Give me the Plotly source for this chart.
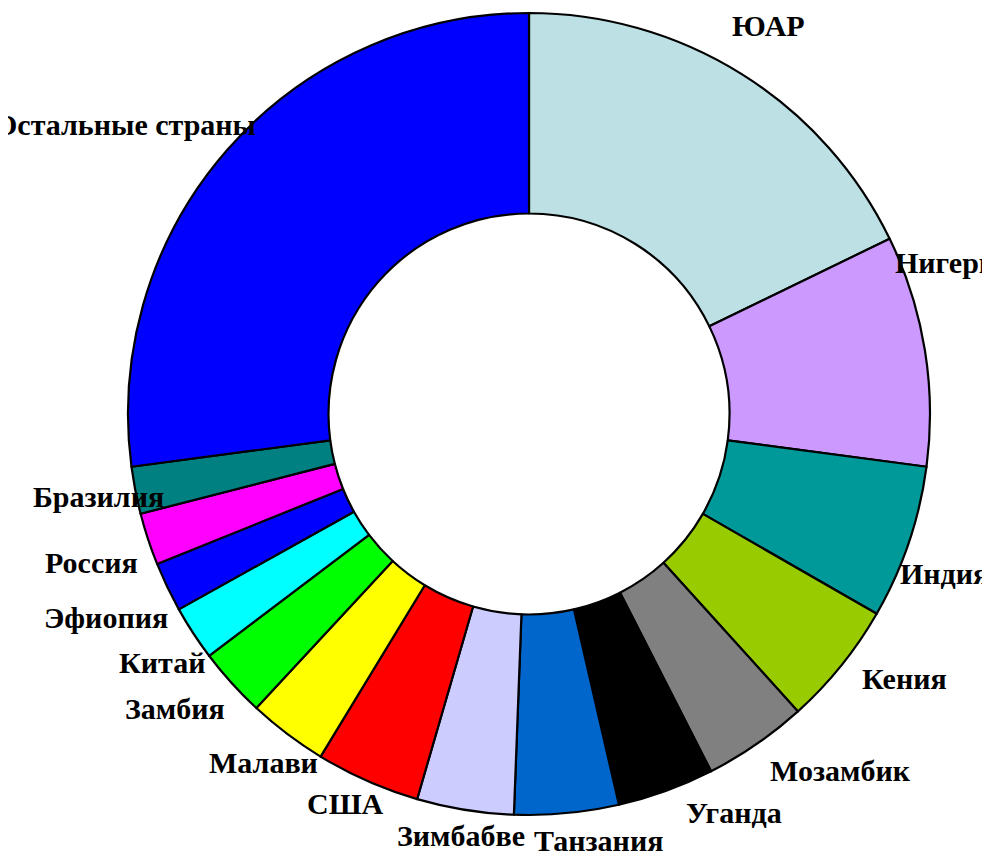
import plotly.graph_objects as go

# page body has an 8px margin; figure sized to fit the 990x858 window
OFF = 8
W, H = 990 - OFF, 858 - OFF

countries = ["ЮАР", "Нигерия", "Индия", "Кения", "Мозамбик", "Уганда", "Танзания",
             "Зимбабве", "США", "Малави", "Замбия", "Китай", "Эфиопия", "Россия",
             "Бразилия", "Остальные страны"]
shares = [17.8, 9.3, 6.2, 5.0, 4.2, 3.9, 4.2, 3.9, 4.2, 3.2, 2.8, 2.2, 2.0, 2.1, 1.9, 27.1]
colors = ["#BCE0E4", "#CC99FF", "#009999", "#99CC00", "#808080", "#000000", "#0066CC",
          "#CCCCFF", "#FF0000", "#FFFF00", "#00FF00", "#00FFFF", "#0000FF", "#FF00FF",
          "#008080", "#0000FF"]

# label text layout (pixel positions in the 990x858 window, anchor)
label_pos = [
    (768, 25, "center"), (893, 262, "left"), (944, 573, "center"), (904, 678, "center"),
    (840, 770, "center"), (734, 812, "center"), (598, 840, "center"), (461, 835, "center"),
    (345, 803, "center"), (264, 762, "center"), (175, 708, "center"), (162, 662, "center"),
    (106, 617, "center"), (91, 562, "center"), (98, 496, "center"), (258, 124, "right"),
]


def px(x):
    return (x - OFF) / W


def py(y):
    return 1 - (y - OFF) / H


fig = go.Figure(go.Pie(
    labels=countries,
    values=shares,
    sort=False,
    direction="clockwise",
    rotation=0,
    hole=0.5,
    marker=dict(colors=colors, line=dict(color="black", width=2.2)),
    textinfo="none",
    showlegend=False,
    domain=dict(x=[px(128), px(930)], y=[py(815), py(13)]),
))

for name, (x, y, anchor) in zip(countries, label_pos):
    fig.add_annotation(
        x=px(x), y=py(y), xref="paper", yref="paper",
        text=name, showarrow=False, xanchor=anchor, yanchor="middle",
        font=dict(family="Liberation Serif", size=30, color="black", weight="bold"),
    )

fig.update_layout(
    width=W, height=H,
    margin=dict(l=0, r=0, t=0, b=0),
    paper_bgcolor="white", plot_bgcolor="white",
)

fig.write_html("out.html")
